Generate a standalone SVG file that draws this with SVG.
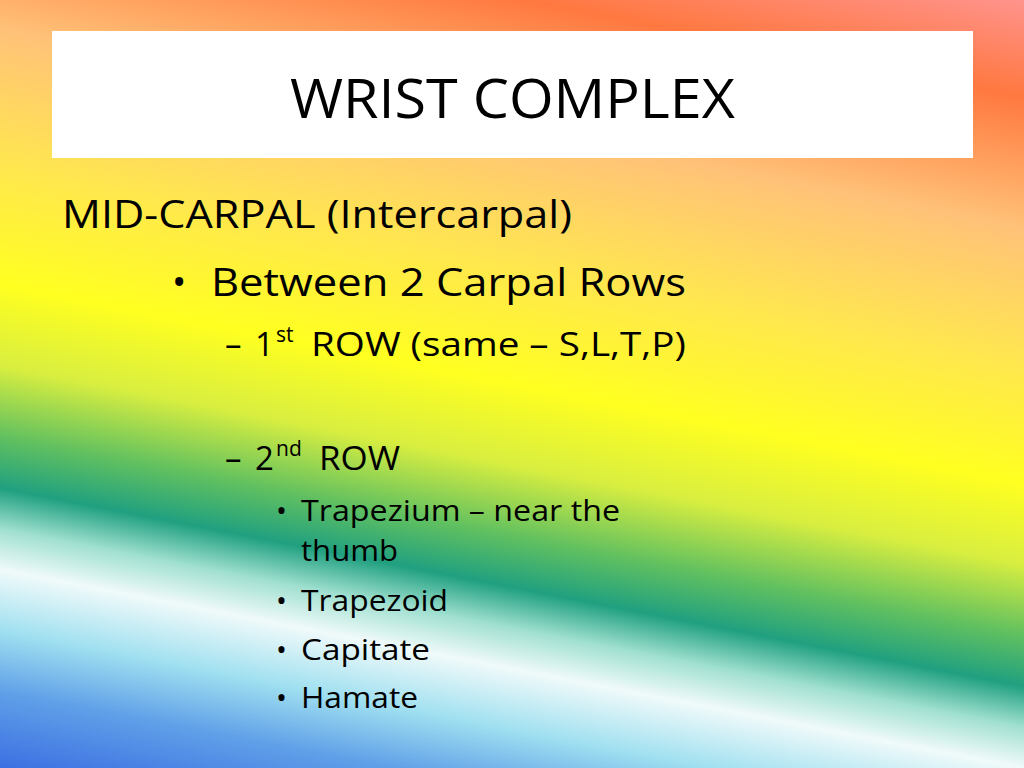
<svg xmlns="http://www.w3.org/2000/svg" width="1024" height="768" viewBox="0 0 1024 768">
<defs>
<linearGradient id="bg" gradientUnits="userSpaceOnUse" x1="607" y1="-106" x2="417" y2="874">
<stop offset="0" stop-color="#ff9aa0"/>
<stop offset="0.12" stop-color="#ff7840"/>
<stop offset="0.25" stop-color="#ffc278"/>
<stop offset="0.38" stop-color="#ffe650"/>
<stop offset="0.5" stop-color="#ffff20"/>
<stop offset="0.58" stop-color="#d8ee40"/>
<stop offset="0.65" stop-color="#60c060"/>
<stop offset="0.7" stop-color="#20a080"/>
<stop offset="0.74" stop-color="#a0e0d0"/>
<stop offset="0.78" stop-color="#f0fafa"/>
<stop offset="0.84" stop-color="#a0e0f0"/>
<stop offset="0.9" stop-color="#60a0e8"/>
<stop offset="1" stop-color="#3060e0"/>
</linearGradient>
<style>
text{font-family:"Open Sans","DejaVu Sans",sans-serif;fill:#000}
.h{font-size:38px}
.m{font-size:33px}
.s{font-size:29px}
.sup{font-size:21px}
</style>
</defs>
<rect width="1024" height="768" fill="url(#bg)"/>
<g id="title">
<rect x="52" y="31" width="921" height="127" fill="#fff"/>
<text x="290" y="118" font-size="54" textLength="445" lengthAdjust="spacingAndGlyphs">WRIST COMPLEX</text>
</g>
<g id="body">
<text class="h" x="62" y="228" textLength="510" lengthAdjust="spacingAndGlyphs">MID-CARPAL (Intercarpal)</text>
<text class="h" x="172" y="296">•</text>
<text class="h" x="211" y="296" textLength="475" lengthAdjust="spacingAndGlyphs">Between 2 Carpal Rows</text>
<text class="m" x="225" y="356">–</text>
<text class="m" x="255" y="356">1</text>
<text class="sup" x="276" y="342">st</text>
<text class="m" x="311" y="356" textLength="375" lengthAdjust="spacingAndGlyphs">ROW (same – S,L,T,P)</text>
<text class="m" x="225" y="470">–</text>
<text class="m" x="255" y="470">2</text>
<text class="sup" x="276" y="456">nd</text>
<text class="m" x="319" y="470" textLength="81" lengthAdjust="spacingAndGlyphs">ROW</text>
<text class="s" x="276" y="521">•</text>
<text class="s" x="301" y="521" textLength="319" lengthAdjust="spacingAndGlyphs">Trapezium – near the</text>
<text class="s" x="301" y="561" textLength="97" lengthAdjust="spacingAndGlyphs">thumb</text>
<text class="s" x="276" y="611">•</text>
<text class="s" x="301" y="611" textLength="147" lengthAdjust="spacingAndGlyphs">Trapezoid</text>
<text class="s" x="276" y="660">•</text>
<text class="s" x="301" y="660" textLength="129" lengthAdjust="spacingAndGlyphs">Capitate</text>
<text class="s" x="276" y="708">•</text>
<text class="s" x="301" y="708" textLength="117" lengthAdjust="spacingAndGlyphs">Hamate</text>
</g>
</svg>
